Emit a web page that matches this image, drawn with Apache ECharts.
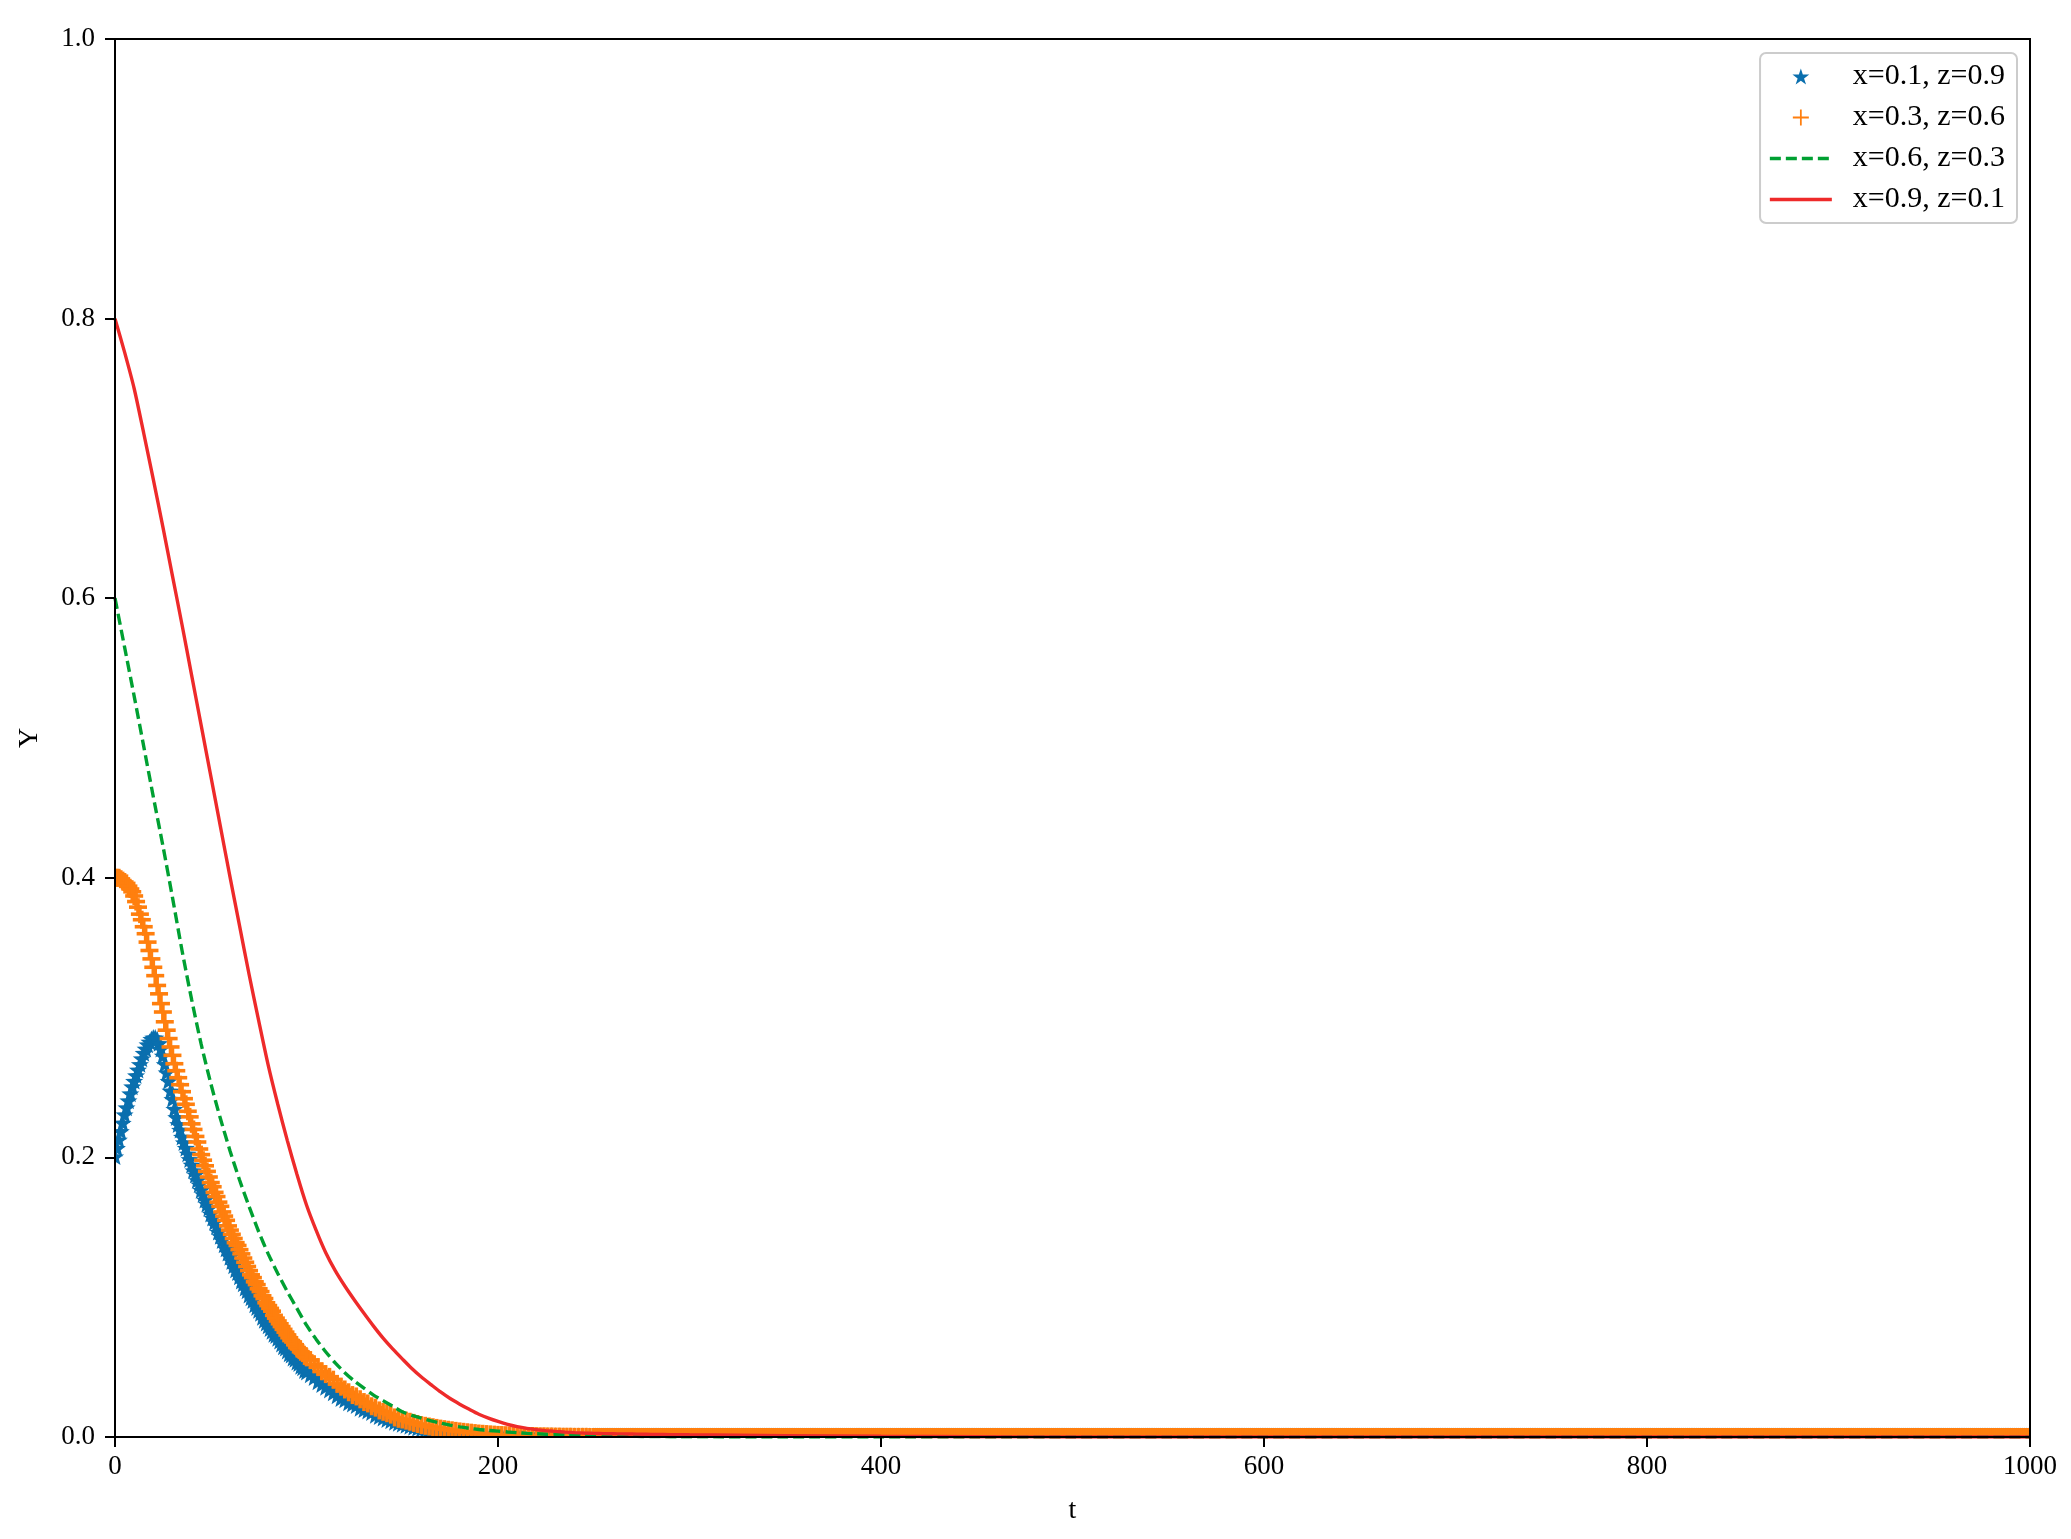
<!DOCTYPE html>
<html>
<head>
<meta charset="utf-8">
<script src="https://cdn.jsdelivr.net/npm/echarts@6/dist/echarts.min.js"></script>
<style>html,body{margin:0;padding:0;background:#fff}#c{width:2071px;height:1539px}</style>
</head>
<body>
<div id="c"></div>
<script>
// ---------------- DATA ----------------
const seriesNames = ['x=0.1, z=0.9', 'x=0.3, z=0.6', 'x=0.6, z=0.3', 'x=0.9, z=0.1'];
const xTickLabels = ['0', '200', '400', '600', '800', '1000'];
const yTickLabels = ['0.0', '0.2', '0.4', '0.6', '0.8', '1.0'];

// time grid for the marker series
const tMarker = [
0,1,2,3,4,5,6,7,8,9,10,11,12,13,14,15,16,17,18,19,20,21,22,23,24,25,26,27,28,29,30,31,32,33,34,35,36,37,38,39,40,
41,42,43,44,45,46,47,48,49,50,51,52,53,54,55,56,57,58,59,60,61,62,63,64,65,66,67,68,69,70,71,72,73,74,75,76,77,78,79,80,
81,82,83,84,85,86,87,88,89,90,91,92,93,94,95,96,97,98,99,100,
102,104,106,108,110,112,114,116,118,120,122,124,126,128,130,132,134,136,138,140,142,144,146,148,150,
152,154,156,158,160,162,164,166,168,170,172,174,176,178,180,182,184,186,188,190,192,194,196,198,200,
202,204,206,208,210,212,214,216,218,220,222,224,226,228,230,232,234,236,238,240,242,244,246,248,250,
251,252,253,254,255,256,257,258,259,260,261,262,263,264,265,266,267,268,269,270,271,272,273,274,275,276,277,278,279,280,281,282,283,284,285,286,287,288,289,290,291,292,293,294,295,296,297,298,299,300,
301,302,303,304,305,306,307,308,309,310,311,312,313,314,315,316,317,318,319,320,321,322,323,324,325,326,327,328,329,330,331,332,333,334,335,336,337,338,339,340,341,342,343,344,345,346,347,348,349,350,
351,352,353,354,355,356,357,358,359,360,361,362,363,364,365,366,367,368,369,370,371,372,373,374,375,376,377,378,379,380,381,382,383,384,385,386,387,388,389,390,391,392,393,394,395,396,397,398,399,400,
401,402,403,404,405,406,407,408,409,410,411,412,413,414,415,416,417,418,419,420,421,422,423,424,425,426,427,428,429,430,431,432,433,434,435,436,437,438,439,440,441,442,443,444,445,446,447,448,449,450,
451,452,453,454,455,456,457,458,459,460,461,462,463,464,465,466,467,468,469,470,471,472,473,474,475,476,477,478,479,480,481,482,483,484,485,486,487,488,489,490,491,492,493,494,495,496,497,498,499,500,
501,502,503,504,505,506,507,508,509,510,511,512,513,514,515,516,517,518,519,520,521,522,523,524,525,526,527,528,529,530,531,532,533,534,535,536,537,538,539,540,541,542,543,544,545,546,547,548,549,550,
551,552,553,554,555,556,557,558,559,560,561,562,563,564,565,566,567,568,569,570,571,572,573,574,575,576,577,578,579,580,581,582,583,584,585,586,587,588,589,590,591,592,593,594,595,596,597,598,599,600,
601,602,603,604,605,606,607,608,609,610,611,612,613,614,615,616,617,618,619,620,621,622,623,624,625,626,627,628,629,630,631,632,633,634,635,636,637,638,639,640,641,642,643,644,645,646,647,648,649,650,
651,652,653,654,655,656,657,658,659,660,661,662,663,664,665,666,667,668,669,670,671,672,673,674,675,676,677,678,679,680,681,682,683,684,685,686,687,688,689,690,691,692,693,694,695,696,697,698,699,700,
701,702,703,704,705,706,707,708,709,710,711,712,713,714,715,716,717,718,719,720,721,722,723,724,725,726,727,728,729,730,731,732,733,734,735,736,737,738,739,740,741,742,743,744,745,746,747,748,749,750,
751,752,753,754,755,756,757,758,759,760,761,762,763,764,765,766,767,768,769,770,771,772,773,774,775,776,777,778,779,780,781,782,783,784,785,786,787,788,789,790,791,792,793,794,795,796,797,798,799,800,
801,802,803,804,805,806,807,808,809,810,811,812,813,814,815,816,817,818,819,820,821,822,823,824,825,826,827,828,829,830,831,832,833,834,835,836,837,838,839,840,841,842,843,844,845,846,847,848,849,850,
851,852,853,854,855,856,857,858,859,860,861,862,863,864,865,866,867,868,869,870,871,872,873,874,875,876,877,878,879,880,881,882,883,884,885,886,887,888,889,890,891,892,893,894,895,896,897,898,899,900,
901,902,903,904,905,906,907,908,909,910,911,912,913,914,915,916,917,918,919,920,921,922,923,924,925,926,927,928,929,930,931,932,933,934,935,936,937,938,939,940,941,942,943,944,945,946,947,948,949,950,
951,952,953,954,955,956,957,958,959,960,961,962,963,964,965,966,967,968,969,970,971,972,973,974,975,976,977,978,979,980,981,982,983,984,985,986,987,988,989,990,991,992,993,994,995,996,997,998,999,1000
];

const yBlue = [
.200,.206,.212,.218,.224,.230,.235,.240,.245,.250,.254,.258,.262,.266,.270,.274,.277,.280,.282,.284,.285,
.285,.284,.281,.277,.272,.266,.260,.254,.247,.241,.234,.228,.223,.219,.214,.210,.206,.202,.198,.194,
.190,.187,.183,.180,.176,.173,.169,.166,.163,.159,.156,.153,.150,.146,.143,.140,.137,.134,.131,.128,
.125,.122,.119,.117,.114,.111,.109,.106,.104,.101,.099,.097,.094,.092,.090,.088,.085,.083,.081,.079,
.077,.075,.073,.072,.070,.068,.066,.064,.063,.061,.059,.058,.056,.055,.053,.052,.050,.049,.047,.046,
.044,.042,.039,.037,.035,.033,.031,.029,.027,.026,.024,.023,.022,.020,.019,.018,.017,.015,.014,.013,.012,.011,.010,.0093,.0085,
.0078,.0071,.0064,.0057,.0050,.0046,.0042,.0038,.0034,.0030,.0027,.0024,.0021,.0018,.0015,.0014,.0012,.0011,.0010,.0009,.0008,.0007,.0006,.0006,.0005,
.0005,.0004,.0004,.0003,.0003,.0003,.0002,.0002,.0002,.0002,.0001,.0001,.0001,.0001,.0001,0,0,0,0,0,0,0,0,0,0,
0,0,0,0,0,0,0,0,0,0,0,0,0,0,0,0,0,0,0,0,0,0,0,0,0,0,0,0,0,0,0,0,0,0,0,0,0,0,0,0,0,0,0,0,0,0,0,0,0,0,
0,0,0,0,0,0,0,0,0,0,0,0,0,0,0,0,0,0,0,0,0,0,0,0,0,0,0,0,0,0,0,0,0,0,0,0,0,0,0,0,0,0,0,0,0,0,0,0,0,0,
0,0,0,0,0,0,0,0,0,0,0,0,0,0,0,0,0,0,0,0,0,0,0,0,0,0,0,0,0,0,0,0,0,0,0,0,0,0,0,0,0,0,0,0,0,0,0,0,0,0,
0,0,0,0,0,0,0,0,0,0,0,0,0,0,0,0,0,0,0,0,0,0,0,0,0,0,0,0,0,0,0,0,0,0,0,0,0,0,0,0,0,0,0,0,0,0,0,0,0,0,
0,0,0,0,0,0,0,0,0,0,0,0,0,0,0,0,0,0,0,0,0,0,0,0,0,0,0,0,0,0,0,0,0,0,0,0,0,0,0,0,0,0,0,0,0,0,0,0,0,0,
0,0,0,0,0,0,0,0,0,0,0,0,0,0,0,0,0,0,0,0,0,0,0,0,0,0,0,0,0,0,0,0,0,0,0,0,0,0,0,0,0,0,0,0,0,0,0,0,0,0,
0,0,0,0,0,0,0,0,0,0,0,0,0,0,0,0,0,0,0,0,0,0,0,0,0,0,0,0,0,0,0,0,0,0,0,0,0,0,0,0,0,0,0,0,0,0,0,0,0,0,
0,0,0,0,0,0,0,0,0,0,0,0,0,0,0,0,0,0,0,0,0,0,0,0,0,0,0,0,0,0,0,0,0,0,0,0,0,0,0,0,0,0,0,0,0,0,0,0,0,0,
0,0,0,0,0,0,0,0,0,0,0,0,0,0,0,0,0,0,0,0,0,0,0,0,0,0,0,0,0,0,0,0,0,0,0,0,0,0,0,0,0,0,0,0,0,0,0,0,0,0,
0,0,0,0,0,0,0,0,0,0,0,0,0,0,0,0,0,0,0,0,0,0,0,0,0,0,0,0,0,0,0,0,0,0,0,0,0,0,0,0,0,0,0,0,0,0,0,0,0,0,
0,0,0,0,0,0,0,0,0,0,0,0,0,0,0,0,0,0,0,0,0,0,0,0,0,0,0,0,0,0,0,0,0,0,0,0,0,0,0,0,0,0,0,0,0,0,0,0,0,0,
0,0,0,0,0,0,0,0,0,0,0,0,0,0,0,0,0,0,0,0,0,0,0,0,0,0,0,0,0,0,0,0,0,0,0,0,0,0,0,0,0,0,0,0,0,0,0,0,0,0,
0,0,0,0,0,0,0,0,0,0,0,0,0,0,0,0,0,0,0,0,0,0,0,0,0,0,0,0,0,0,0,0,0,0,0,0,0,0,0,0,0,0,0,0,0,0,0,0,0,0,
0,0,0,0,0,0,0,0,0,0,0,0,0,0,0,0,0,0,0,0,0,0,0,0,0,0,0,0,0,0,0,0,0,0,0,0,0,0,0,0,0,0,0,0,0,0,0,0,0,0,
0,0,0,0,0,0,0,0,0,0,0,0,0,0,0,0,0,0,0,0,0,0,0,0,0,0,0,0,0,0,0,0,0,0,0,0,0,0,0,0,0,0,0,0,0,0,0,0,0,0
];

const yOrange = [
.400,.400,.400,.399,.398,.397,.396,.394,.392,.390,.387,.383,.379,.374,.370,.365,.360,.354,.348,.342,.336,
.330,.323,.317,.310,.304,.297,.291,.285,.279,.273,.267,.262,.257,.252,.247,.242,.238,.233,.229,.224,
.220,.215,.211,.206,.202,.198,.194,.190,.186,.182,.179,.175,.172,.168,.165,.161,.158,.155,.151,.148,
.145,.142,.139,.137,.134,.131,.128,.125,.122,.119,.116,.114,.111,.109,.106,.104,.101,.099,.096,.094,
.092,.090,.087,.085,.083,.081,.079,.077,.075,.073,.071,.069,.068,.066,.064,.063,.061,.060,.058,.057,
.055,.052,.050,.047,.045,.043,.041,.038,.036,.034,.032,.030,.029,.027,.025,.024,.022,.021,.019,.018,.017,.016,.014,.013,.0125,
.0117,.0109,.0101,.0093,.0085,.0080,.0075,.0070,.0065,.0060,.0056,.0052,.0048,.0044,.0040,.0037,.0034,.0031,.0028,.0025,.0023,.0021,.0019,.0017,.0015,
.0014,.0013,.0012,.0011,.0010,.0009,.0008,.0007,.0007,.0006,.0005,.0005,.0004,.0004,.0003,.0003,.0002,.0002,.0002,.0001,.0001,.0001,.0001,0,0,
0,0,0,0,0,0,0,0,0,0,0,0,0,0,0,0,0,0,0,0,0,0,0,0,0,0,0,0,0,0,0,0,0,0,0,0,0,0,0,0,0,0,0,0,0,0,0,0,0,0,
0,0,0,0,0,0,0,0,0,0,0,0,0,0,0,0,0,0,0,0,0,0,0,0,0,0,0,0,0,0,0,0,0,0,0,0,0,0,0,0,0,0,0,0,0,0,0,0,0,0,
0,0,0,0,0,0,0,0,0,0,0,0,0,0,0,0,0,0,0,0,0,0,0,0,0,0,0,0,0,0,0,0,0,0,0,0,0,0,0,0,0,0,0,0,0,0,0,0,0,0,
0,0,0,0,0,0,0,0,0,0,0,0,0,0,0,0,0,0,0,0,0,0,0,0,0,0,0,0,0,0,0,0,0,0,0,0,0,0,0,0,0,0,0,0,0,0,0,0,0,0,
0,0,0,0,0,0,0,0,0,0,0,0,0,0,0,0,0,0,0,0,0,0,0,0,0,0,0,0,0,0,0,0,0,0,0,0,0,0,0,0,0,0,0,0,0,0,0,0,0,0,
0,0,0,0,0,0,0,0,0,0,0,0,0,0,0,0,0,0,0,0,0,0,0,0,0,0,0,0,0,0,0,0,0,0,0,0,0,0,0,0,0,0,0,0,0,0,0,0,0,0,
0,0,0,0,0,0,0,0,0,0,0,0,0,0,0,0,0,0,0,0,0,0,0,0,0,0,0,0,0,0,0,0,0,0,0,0,0,0,0,0,0,0,0,0,0,0,0,0,0,0,
0,0,0,0,0,0,0,0,0,0,0,0,0,0,0,0,0,0,0,0,0,0,0,0,0,0,0,0,0,0,0,0,0,0,0,0,0,0,0,0,0,0,0,0,0,0,0,0,0,0,
0,0,0,0,0,0,0,0,0,0,0,0,0,0,0,0,0,0,0,0,0,0,0,0,0,0,0,0,0,0,0,0,0,0,0,0,0,0,0,0,0,0,0,0,0,0,0,0,0,0,
0,0,0,0,0,0,0,0,0,0,0,0,0,0,0,0,0,0,0,0,0,0,0,0,0,0,0,0,0,0,0,0,0,0,0,0,0,0,0,0,0,0,0,0,0,0,0,0,0,0,
0,0,0,0,0,0,0,0,0,0,0,0,0,0,0,0,0,0,0,0,0,0,0,0,0,0,0,0,0,0,0,0,0,0,0,0,0,0,0,0,0,0,0,0,0,0,0,0,0,0,
0,0,0,0,0,0,0,0,0,0,0,0,0,0,0,0,0,0,0,0,0,0,0,0,0,0,0,0,0,0,0,0,0,0,0,0,0,0,0,0,0,0,0,0,0,0,0,0,0,0,
0,0,0,0,0,0,0,0,0,0,0,0,0,0,0,0,0,0,0,0,0,0,0,0,0,0,0,0,0,0,0,0,0,0,0,0,0,0,0,0,0,0,0,0,0,0,0,0,0,0,
0,0,0,0,0,0,0,0,0,0,0,0,0,0,0,0,0,0,0,0,0,0,0,0,0,0,0,0,0,0,0,0,0,0,0,0,0,0,0,0,0,0,0,0,0,0,0,0,0,0,
0,0,0,0,0,0,0,0,0,0,0,0,0,0,0,0,0,0,0,0,0,0,0,0,0,0,0,0,0,0,0,0,0,0,0,0,0,0,0,0,0,0,0,0,0,0,0,0,0,0
];

// time grid for the line series
const tLine = [
0,5,10,15,20,25,30,35,40,45,50,55,60,65,70,75,80,85,90,95,100,
105,110,115,120,125,130,135,140,145,150,155,160,165,170,175,180,185,190,195,200,
205,210,215,220,225,230,235,240,245,250,255,260,265,270,275,280,285,290,295,300,
350,400,450,500,550,600,650,700,750,800,850,900,950,1000
];

const yGreen = [
.600,.565,.530,.494,.458,.423,.386,.348,.313,.281,.253,.228,.205,.184,.165,.147,.131,.117,.104,.092,.080,
.070,.061,.053,.046,.040,.035,.030,.026,.022,.018,.0155,.0135,.0115,.0100,.0085,.0072,.0062,.0054,.0047,.0042,
.0036,.0031,.0026,.0023,.0020,.0017,.0015,.0013,.0011,.0009,.0008,.0007,.0006,.0005,.0004,.0003,.0003,.0002,.0002,.0001,
0,0,0,0,0,0,0,0,0,0,0,0,0,0
];

const yRed = [
.800,.776,.750,.718,.685,.651,.616,.581,.545,.509,.473,.437,.401,.366,.331,.298,.266,.238,.212,.188,.166,
.148,.132,.119,.108,.098,.0885,.0793,.0707,.0630,.0559,.0490,.0429,.0375,.0322,.0275,.0235,.0198,.0163,.0135,.0111,
.0090,.0074,.0062,.0053,.0046,.0040,.0035,.0031,.0028,.0026,.0024,.0023,.0022,.0021,.0020,.0019,.0018,.0017,.0017,.0016,
.0010,.0005,.0002,0,0,0,0,0,0,0,0,0,0,0
];

// ---------------- STYLE ----------------
const FONT = "'Liberation Serif', 'Times New Roman', serif";
const C_BLUE = '#0a6fae', C_ORANGE = '#ff7f0e', C_GREEN = '#00a032', C_RED = '#ee2a2a';
const STAR_ICON = 'path://M0,-1L0.2245,-0.309L0.951,-0.309L0.363,0.118L0.588,0.809L0,0.382L-0.588,0.809L-0.363,0.118L-0.951,-0.309L-0.2245,-0.309Z';
const PLUS_ICON = 'path://M-1,-0.11H1V0.11H-1ZM-0.11,-1H0.11V1H-0.11Z';
const STAR_R = 9.5, PLUS_R = 9, PLUS_HW = 1.8;

const pairs = (ts, ys) => ts.map((t, i) => [t, ys[i]]);

function starItem(params, api) {
  const p = api.coord([api.value(0), api.value(1)]);
  const pts = [];
  for (let k = 0; k < 10; k++) {
    const a = -Math.PI / 2 + k * Math.PI / 5;
    const r = (k % 2 === 0) ? STAR_R : STAR_R * 0.42;
    pts.push([p[0] + r * Math.cos(a), p[1] + r * Math.sin(a)]);
  }
  return {type: 'polygon', shape: {points: pts}, style: {fill: C_BLUE}};
}
function plusItem(params, api) {
  const p = api.coord([api.value(0), api.value(1)]);
  return {type: 'group', children: [
    {type: 'rect', shape: {x: p[0] - PLUS_R, y: p[1] - PLUS_HW, width: 2 * PLUS_R, height: 2 * PLUS_HW}, style: {fill: C_ORANGE}},
    {type: 'rect', shape: {x: p[0] - PLUS_HW, y: p[1] - PLUS_R, width: 2 * PLUS_HW, height: 2 * PLUS_R}, style: {fill: C_ORANGE}}
  ]};
}

const chart = echarts.init(document.getElementById('c'), null, {renderer: 'canvas'});
chart.setOption({
  animation: false,
  backgroundColor: '#fff',
  textStyle: {fontFamily: FONT, color: '#000'},
  grid: {left: 115, right: 41, top: 39, bottom: 102, show: true, z: 10,
         backgroundColor: 'transparent', borderColor: '#000', borderWidth: 2, containLabel: false},
  xAxis: {
    type: 'value', min: 0, max: 1000, interval: 200, z: 11,
    name: 't', nameLocation: 'middle', nameGap: 60,
    nameTextStyle: {fontFamily: FONT, fontSize: 28, color: '#000'},
    axisLine: {show: true, lineStyle: {color: '#000', width: 2}},
    axisTick: {show: true, inside: false, length: 10, lineStyle: {color: '#000', width: 2}},
    axisLabel: {fontFamily: FONT, fontSize: 27, color: '#000', margin: 16,
      formatter: v => xTickLabels[Math.round(v / 200)]},
    splitLine: {show: false}
  },
  yAxis: {
    type: 'value', min: 0, max: 1, interval: 0.2, z: 11,
    name: 'Y', nameLocation: 'middle', nameGap: 71,
    nameTextStyle: {fontFamily: FONT, fontSize: 28, color: '#000'},
    axisLine: {show: true, lineStyle: {color: '#000', width: 2}},
    axisTick: {show: true, inside: false, length: 10, lineStyle: {color: '#000', width: 2}},
    axisLabel: {fontFamily: FONT, fontSize: 27, color: '#000', margin: 20,
      formatter: v => yTickLabels[Math.round(v / 0.2)]},
    splitLine: {show: false}
  },
  legend: {
    orient: 'vertical', right: 54, top: 53, z: 20,
    padding: [8, 12, 8, 8],
    itemGap: 10, itemWidth: 62, itemHeight: 16,
    borderColor: '#cccccc', borderWidth: 2, borderRadius: 6,
    backgroundColor: 'rgba(255,255,255,0.85)',
    lineStyle: {width: 3.6},
    textStyle: {fontFamily: FONT, fontSize: 30, color: '#000', padding: [0, 0, 0, 16], lineHeight: 31},
    data: [
      {name: seriesNames[0], icon: STAR_ICON},
      {name: seriesNames[1], icon: PLUS_ICON},
      {name: seriesNames[2], itemStyle: {opacity: 0}},
      {name: seriesNames[3], itemStyle: {opacity: 0}}
    ]
  },
  series: [
    {name: seriesNames[0], type: 'custom', data: pairs(tMarker, yBlue),
     encode: {x: 0, y: 1}, clip: true, renderItem: starItem,
     itemStyle: {color: C_BLUE}},
    {name: seriesNames[1], type: 'custom', data: pairs(tMarker, yOrange),
     encode: {x: 0, y: 1}, clip: true, renderItem: plusItem,
     itemStyle: {color: C_ORANGE}},
    {name: seriesNames[2], type: 'line', data: pairs(tLine, yGreen),
     symbol: 'none', showSymbol: false, clip: true, smooth: 0.25,
     itemStyle: {color: C_GREEN},
     lineStyle: {color: C_GREEN, width: 3.4, type: [11, 5]}},
    {name: seriesNames[3], type: 'line', data: pairs(tLine, yRed),
     symbol: 'none', showSymbol: false, clip: true, smooth: 0.25,
     itemStyle: {color: C_RED},
     lineStyle: {color: C_RED, width: 3.4}}
  ]
});
</script>
</body>
</html>
